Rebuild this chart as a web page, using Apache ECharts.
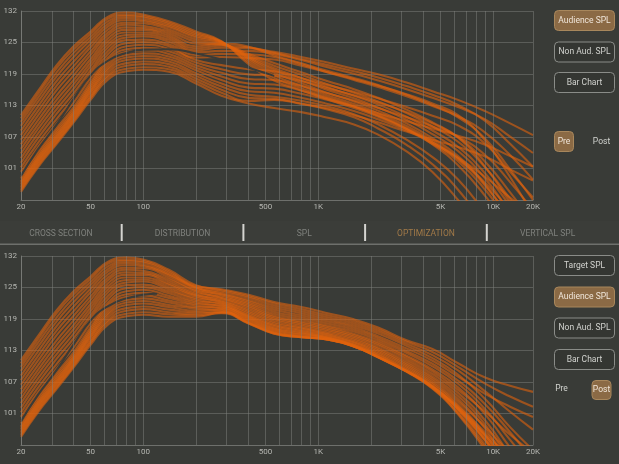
<!DOCTYPE html>
<html><head><meta charset="utf-8">
<script src="https://cdn.jsdelivr.net/npm/echarts@6/dist/echarts.min.js"></script>
<style>html,body{margin:0;padding:0;background:#393b37;}#c{width:619px;height:464px;}</style>
</head><body><div id="c"></div>
<script>
const freqs = [20,25,32,40,50,63,80,100,140,200,280,400,560,800,1100,1600,2200,3200,4500,6300,9000,12500,16900];
const xTickValues = [20,50,100,500,1000,5000,10000,16900];
const xTickLabels = ['20','50','100','500','1K','5K','10K','20K'];
const xMinorValues = [30,40,60,70,80,90,200,300,400,600,700,800,900,2000,3000,4000,6000,7000,8000,9000];
const yTickLabels = ['101','107','113','119','125','132'];

const preCurves = [
[96.6,101.4,106.0,110.2,114.6,118.6,120.2,120.5,120.1,117.8,115.4,113.9,113.0,112.2,111.2,109.8,107.8,104.5,100.5,95.0,88,81,76],
[96.9,101.7,106.3,110.5,115.0,119.1,120.7,121.0,120.6,118.3,116.0,114.4,114.6,113.8,112.8,111.2,109.0,105.8,102.0,97.0,90,83,78],
[97.2,102.0,106.6,110.8,115.3,119.5,121.3,121.6,121.1,118.8,116.6,115.0,114.8,113.9,113.0,111.6,110.2,108.4,106.8,105.4,103.5,101.0,98.8],
[97.5,102.3,106.9,111.1,115.7,120.0,121.8,122.1,121.6,119.3,117.2,115.6,115.2,114.4,113.4,111.8,109.8,106.8,103.4,99.0,92.5,86,80],
[97.8,102.6,107.2,111.4,116.1,120.5,122.4,122.7,122.1,119.8,117.8,116.3,116.0,115.0,113.9,112.4,110.8,108.6,106.0,102.6,97.0,90.5,85],
[98.1,102.9,107.5,111.7,116.4,120.9,122.9,123.2,122.6,120.4,118.5,117.0,116.8,115.8,114.7,113.3,112.0,110.4,109.0,107.6,105.8,103.6,101.5],
[98.4,103.2,107.8,112.0,116.8,121.4,123.4,123.7,123.1,120.9,119.2,117.8,117.6,116.4,115.0,113.3,111.5,108.9,105.9,101.8,95.8,89,83],
[98.7,103.5,108.2,112.3,117.2,121.9,124.0,124.3,123.6,121.4,119.9,118.7,118.5,117.3,116.0,114.5,113.0,111.2,109.4,107.4,103.8,98.5,93],
[99.2,103.9,108.6,112.7,117.6,122.4,124.5,124.8,124.1,121.9,120.6,119.6,119.4,118.3,117.0,115.5,114.1,112.2,110.0,107.2,101.5,94.5,88],
[99.6,104.4,109.1,113.2,118.1,122.9,125.1,125.4,124.6,122.4,121.4,120.6,120.2,118.9,117.6,116.2,114.9,113.2,111.5,109.6,106.0,100.5,95.5],
[100.5,105.3,110.0,114.1,118.9,123.6,125.7,125.9,125.1,122.9,123.0,122.8,122.5,121.3,120.1,118.7,117.4,115.7,113.9,111.6,106.6,99.5,92],
[101.4,106.2,110.9,115.0,119.7,124.2,126.3,126.4,125.5,123.4,123.6,123.5,123.0,121.6,120.1,118.5,117.1,115.3,113.4,111.4,108.2,103.8,99],
[102.3,107.1,111.9,115.9,120.4,124.9,126.8,127.0,126.0,123.9,124.2,124.2,123.6,122.4,121.1,119.7,118.4,116.7,115.0,113.2,110.8,107.4,104.2],
[103.2,108.0,112.8,116.8,121.2,125.5,127.3,127.4,126.4,124.3,124.8,124.7,124.0,123.0,122.0,120.7,119.6,118.0,116.3,114.6,112.4,110.0,107.7],
[104.1,108.9,113.7,117.7,121.9,126.1,127.8,127.8,126.8,124.7,125.2,124.9,123.8,122.6,121.5,120.2,119.0,117.3,115.6,113.6,110.5,106.0,101.5],
[105.0,109.7,114.6,118.5,122.6,126.7,128.3,128.3,127.2,125.1,125.6,125.0,123.3,121.8,120.4,118.9,117.5,115.6,113.6,111.2,107.0,101.0,95.0],
[105.9,110.6,115.5,119.4,123.4,127.3,128.8,128.7,127.6,125.6,125.4,123.6,121.8,120.0,118.4,116.7,115.0,112.7,110.2,107.3,102.5,96.5,90.5],
[106.8,111.5,116.5,120.3,124.1,127.8,129.3,129.1,128.0,126.0,125.5,123.3,121.3,119.5,117.8,116.0,114.3,112.0,109.4,106.4,101.4,95.2,89],
[107.7,112.4,117.4,121.2,124.9,128.4,129.7,129.6,128.4,126.4,125.7,123.1,120.8,118.9,117.2,115.4,113.7,111.3,108.6,105.4,100.2,93.8,87.5],
[108.6,113.3,118.3,122.1,125.6,129.0,130.2,130.0,128.8,126.8,125.8,122.9,120.4,118.4,116.7,114.9,113.1,110.7,107.9,104.6,99.2,92.5,86],
[109.5,114.2,119.2,123.0,126.3,129.5,130.6,130.3,129.1,127.1,125.9,122.7,119.9,117.9,116.1,114.3,112.5,110.0,107.1,103.6,98.0,91.2,85],
[110.3,115.0,120.0,123.8,126.9,130.0,131.0,130.7,129.4,127.4,126.0,122.4,119.4,117.4,115.6,113.8,112.0,109.5,106.6,103.2,97.8,91.5,85.5],
[111.0,115.7,120.8,124.5,127.5,130.5,131.3,131.0,129.7,127.7,126.0,122.0,118.9,116.9,115.2,113.4,111.6,109.1,106.3,103.0,98.4,93.0,88],
[111.6,116.3,121.4,125.1,128.0,130.9,131.7,131.3,130.0,128.0,126.1,121.6,118.4,116.5,114.8,113.0,111.3,108.9,106.2,103.3,99.5,95.5,92]
];

const postCurves = [
[96.6,101.4,106.0,110.2,114.6,118.6,120.2,120.5,120.1,120.1,120.9,118.8,116.8,116.1,115.7,114.3,112.2,109.4,106.4,102.0,95.8,89.5,84],
[96.9,101.7,106.3,110.5,115.0,119.1,120.7,121.0,120.6,120.4,120.8,118.8,116.8,116.1,115.7,114.3,112.2,109.4,106.4,102.0,96.0,90.0,85],
[97.2,102.0,106.6,110.8,115.3,119.5,121.3,121.6,121.0,120.7,121.1,119.0,117.0,116.2,115.7,114.3,112.2,109.4,106.3,102.2,97.0,93.0,91],
[97.5,102.3,106.9,111.1,115.7,120.0,121.8,122.1,121.5,121.0,121.0,118.9,116.9,116.1,115.7,114.3,112.2,109.4,106.1,101.2,94.5,87.0,81],
[97.8,102.6,107.2,111.4,116.1,120.5,122.4,122.7,122.0,121.3,121.5,119.4,117.4,116.5,115.9,114.4,112.2,109.4,106.2,101.5,95.0,88.0,82],
[98.1,102.9,107.5,111.7,116.4,120.9,122.9,123.2,122.4,121.7,121.3,119.2,117.2,116.3,115.8,114.3,112.1,109.3,106.0,101.0,94.0,86.5,80],
[98.4,103.2,107.8,112.0,116.8,121.4,123.4,123.7,122.9,122.0,121.9,119.8,117.8,116.9,116.1,114.6,112.5,109.6,106.4,102.0,96.0,89.0,83],
[98.7,103.5,108.2,112.3,117.2,121.9,124.0,124.3,123.3,122.3,121.7,119.6,117.6,116.7,116.0,114.5,112.3,109.5,106.5,102.5,97.5,92.5,89],
[99.2,103.9,108.6,112.7,117.6,122.4,124.5,124.8,123.8,122.6,122.3,120.2,118.3,117.3,116.4,114.9,112.9,110.1,106.9,102.6,96.5,89.5,83],
[99.6,104.4,109.1,113.2,118.1,122.9,125.1,125.4,124.2,122.9,122.1,120.0,118.0,117.1,116.2,114.7,112.7,109.8,106.6,102.3,96.8,91.5,87],
[100.5,105.3,110.0,114.1,118.9,123.6,125.7,125.9,124.7,123.2,122.7,120.7,118.8,117.8,116.8,115.3,113.5,110.7,107.6,103.5,98.5,93.5,90],
[101.4,106.2,110.9,115.0,119.7,124.2,126.3,126.4,125.1,123.5,122.5,120.4,118.5,117.5,116.6,115.1,113.2,110.4,107.2,103.0,97.0,90.0,84],
[102.3,107.1,111.9,115.9,120.4,124.9,126.8,127.0,125.5,123.8,123.1,121.3,119.4,118.3,117.3,115.9,114.1,111.4,108.4,104.6,99.0,92.0,86],
[103.2,108.0,112.8,116.8,121.2,125.5,127.3,127.4,125.9,124.1,122.9,121.0,119.1,118.0,117.0,115.6,113.8,111.0,108.0,104.0,98.2,91.0,85],
[104.1,108.9,113.7,117.7,121.9,126.1,127.8,127.8,126.3,124.3,123.6,121.9,120.0,118.9,117.9,116.5,114.8,112.2,109.4,105.8,101.5,97.0,93.5],
[105.0,109.7,114.6,118.5,122.6,126.7,128.3,128.3,126.6,124.5,123.3,121.6,119.7,118.6,117.6,116.2,114.5,111.8,108.9,105.2,99.8,93.0,87],
[105.9,110.6,115.5,119.4,123.4,127.3,128.8,128.7,127.0,124.8,124.0,122.5,120.7,119.6,118.5,117.2,115.5,113.0,110.4,107.0,102.0,96.0,90.5],
[106.8,111.5,116.5,120.3,124.1,127.8,129.3,129.1,127.4,125.1,123.8,122.2,120.3,119.2,118.2,116.8,115.1,112.5,109.8,106.3,101.0,94.5,88.5],
[107.7,112.4,117.4,121.2,124.9,128.4,129.7,129.6,127.8,125.3,124.5,123.1,121.5,120.4,119.3,118.0,116.3,113.9,111.5,108.4,105.0,102.5,100.5],
[108.6,113.3,118.3,122.1,125.6,129.0,130.2,130.0,128.2,125.6,124.3,122.8,121.1,120.0,118.9,117.6,115.9,113.4,110.9,107.6,103.0,97.5,92.0],
[109.5,114.2,119.2,123.0,126.3,129.5,130.6,130.3,128.4,125.8,125.0,123.8,122.3,121.2,120.1,118.8,117.2,114.8,112.6,109.6,105.5,101.5,98.0],
[110.3,115.0,120.0,123.8,126.9,130.0,131.0,130.7,128.7,125.9,124.7,123.4,121.9,120.8,119.7,118.4,116.8,114.4,112.0,108.8,104.0,98.5,94.0],
[111.0,115.7,120.8,124.5,127.5,130.5,131.3,131.0,129.0,126.1,125.5,124.4,123.0,122.0,120.9,119.6,118.0,115.5,113.8,111.0,108.2,106.6,105.4],
[111.6,116.3,121.4,125.1,128.0,130.9,131.7,131.3,129.3,126.3,125.3,124.1,122.7,121.6,120.5,119.2,117.6,115.2,113.2,110.3,107.0,104.5,102.5]
];

const darkPreFreqs = [20,25,32,40,50,63,80,100,140,200,280,400,560];
const darkPre = [99.7,104.9,109.8,114.8,119.4,122.3,123.8,124.4,124.5,123.7,122.5,120.9,119.3];
const darkPostFreqs = [20,25,32,40,50,63,80,100,120];
const darkPost = [99.6,104.8,109.7,114.7,119.4,122.2,123.7,124.4,124.6];

const tabLabels = ['CROSS SECTION','DISTRIBUTION','SPL','OPTIMIZATION','VERTICAL SPL'];
const activeTab = 'OPTIMIZATION';
const preButtons = ['Audience SPL','Non Aud. SPL','Bar Chart'];
const preActive = 'Audience SPL';
const postButtons = ['Target SPL','Audience SPL','Non Aud. SPL','Bar Chart'];
const postActive = 'Audience SPL';

const BG = '#393b37';
const ORANGE = 'rgba(224,98,14,0.6)';
const FONT = 'Roboto, "Noto Sans", sans-serif';

function panelSeries(idx, curves, dFreqs, dVals) {
  const s = [];
  curves.forEach(c => s.push({
    type: 'line', xAxisIndex: idx, yAxisIndex: idx, silent: true, animation: false,
    data: freqs.map((f, i) => [f, c[i]]), smooth: 0.5, symbol: 'none', z: 2,
    lineStyle: { color: ORANGE, width: 2.1 }, emphasis: { disabled: true }
  }));
  s.push({
    type: 'line', xAxisIndex: idx, yAxisIndex: idx, silent: true, animation: false,
    data: dFreqs.map((f, i) => [f, dVals[i]]), smooth: 0.5, symbol: 'none', z: 4,
    lineStyle: { color: '#3a3b37', width: 2 }, emphasis: { disabled: true }
  });
  const gridData = xMinorValues.map(v => ({ xAxis: v }))
    .concat(xTickValues.map((v, i) => ({ xAxis: v, label: { show: true, formatter: xTickLabels[i] } })));
  s.push({
    type: 'line', xAxisIndex: idx, yAxisIndex: idx, silent: true, animation: false, data: [], z: 5,
    markLine: {
      silent: true, animation: false, symbol: ['none', 'none'],
      label: { show: false, position: 'start', distance: 3, color: '#b6b7b2', fontSize: 8, fontFamily: FONT },
      lineStyle: { color: 'rgba(128,130,125,0.5)', width: 1, type: 'solid' },
      emphasis: { disabled: true },
      data: gridData
    }
  });
  return s;
}

function button(x, y, w, h, label, active) {
  return [
    { type: 'rect', silent: true, shape: { x: x + 0.5, y: y + 0.5, width: w, height: h, r: 4 },
      style: { fill: active ? '#8b6a45' : '#343632', stroke: active ? '#a8875c' : '#8a8c88', lineWidth: 1 } },
    { type: 'text', silent: true,
      style: { text: label, x: x + w / 2 + 0.5, y: y + h / 2 + 0.5, fill: active ? '#f0e6da' : '#d2d3cf',
        font: '8.5px ' + FONT, align: 'center', verticalAlign: 'middle', textAlign: 'center', textVerticalAlign: 'middle' } }
  ];
}
function plainText(x, y, label, color) {
  return { type: 'text', silent: true,
    style: { text: label, x: x, y: y, fill: color, font: '8.5px ' + FONT, align: 'center', verticalAlign: 'middle', textAlign: 'center', textVerticalAlign: 'middle' } };
}

const graphics = [];
graphics.push({ type: 'rect', silent: true, shape: { x: 0, y: 221, width: 619, height: 23 }, style: { fill: '#3b3d39' } });
graphics.push({ type: 'rect', silent: true, shape: { x: 0, y: 243.5, width: 619, height: 1.5 }, style: { fill: '#6e706c' } });
const tabW = 121.7;
tabLabels.forEach((t, i) => {
  graphics.push(plainText(tabW * i + tabW / 2, 234, t, t === activeTab ? '#a27a48' : '#7f817d'));
  if (i > 0) graphics.push({ type: 'rect', silent: true, shape: { x: tabW * i - 1, y: 224, width: 2, height: 17 }, style: { fill: '#d4d4d0' } });
});
const preY = [10, 41.5, 72];
preButtons.forEach((b, i) => graphics.push(...button(554, preY[i], 60, 20, b, b === preActive)));
graphics.push(...button(554, 131, 19, 20, 'Pre', true));
graphics.push(plainText(601.5, 141.5, 'Post', '#d2d3cf'));
const postY = [255, 286.5, 317.5, 349];
postButtons.forEach((b, i) => graphics.push(...button(554, postY[i], 60, 20, b, b === postActive)));
graphics.push(plainText(561.5, 389, 'Pre', '#d2d3cf'));
graphics.push(...button(591.5, 380, 19, 19, 'Post', true));

function yAxisDef(idx) {
  return {
    type: 'value', gridIndex: idx, min: 95, max: 132, interval: 6.17,
    axisLine: { show: true, lineStyle: { color: '#6e706c' } }, axisTick: { show: false },
    axisLabel: { color: '#b6b7b2', fontSize: 8, fontFamily: FONT, margin: 4,
      formatter: (v, i) => i === 0 ? '' : (yTickLabels[i - 1] || '') },
    splitLine: { show: true, lineStyle: { color: '#5b5d59', width: 1 } }
  };
}
function xAxisDef(idx) {
  return {
    type: 'log', logBase: 10, gridIndex: idx, min: 20, max: 16900,
    axisLine: { show: true, lineStyle: { color: '#6e706c' } }, axisTick: { show: false },
    axisLabel: { show: false }, splitLine: { show: false }, minorSplitLine: { show: false }
  };
}

const chart = echarts.init(document.getElementById('c'), null, { renderer: 'canvas', width: 619, height: 464 });
chart.setOption({
  backgroundColor: BG,
  animation: false,
  grid: [
    { left: 21, right: 86, top: 11, bottom: 264 },
    { left: 21, right: 86, top: 256, bottom: 19 }
  ],
  xAxis: [xAxisDef(0), xAxisDef(1)],
  yAxis: [yAxisDef(0), yAxisDef(1)],
  series: panelSeries(0, preCurves, darkPreFreqs, darkPre).concat(panelSeries(1, postCurves, darkPostFreqs, darkPost)),
  graphic: { elements: graphics }
});
</script></body></html>
